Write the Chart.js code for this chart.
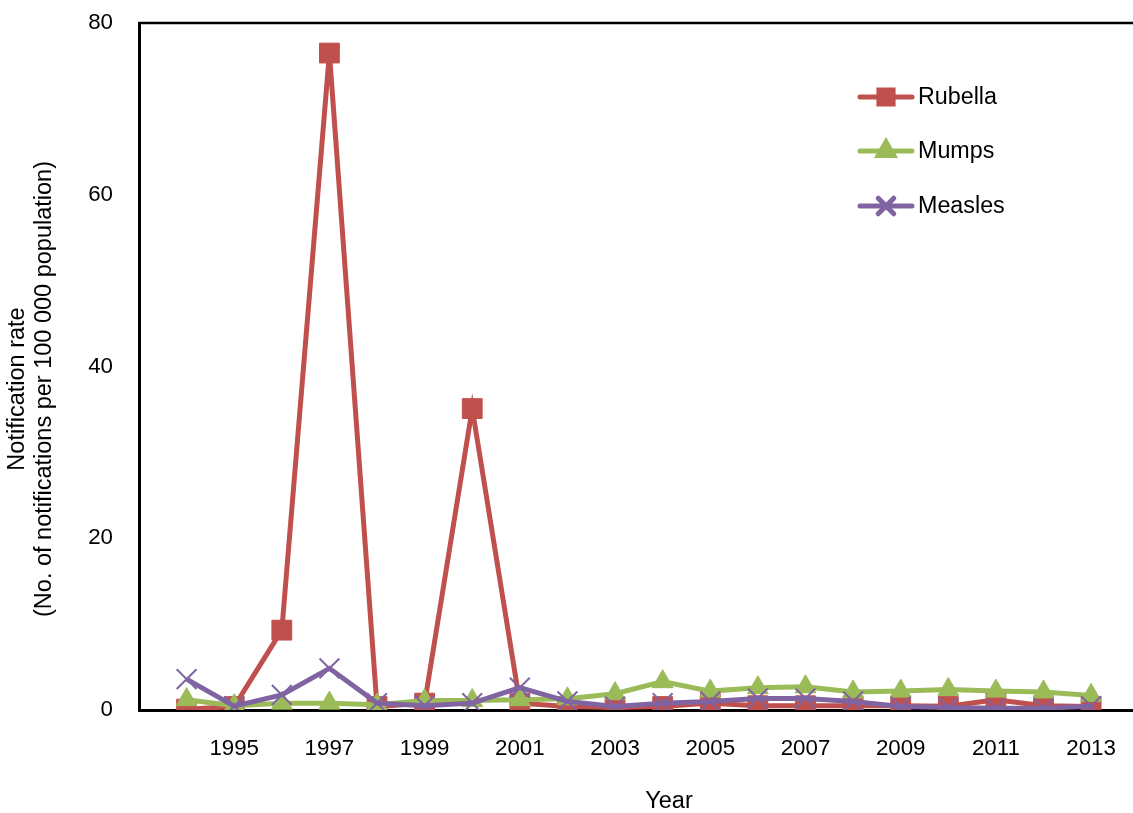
<!DOCTYPE html>
<html>
<head>
<meta charset="utf-8">
<script src="https://cdn.jsdelivr.net/npm/chart.js@4.4.0/dist/chart.umd.min.js"></script>
<style>
	html, body { margin: 0; padding: 0; background: #fff; }
	#wrap { width: 1133px; height: 813px; }
</style>
</head>
<body>
<div id="wrap"><canvas id="myChart" width="1133" height="813"></canvas></div>
<script>
const years = [1994, 1995, 1996, 1997, 1998, 1999, 2000, 2001, 2002, 2003, 2004, 2005, 2006, 2007, 2008, 2009, 2010, 2011, 2012, 2013]
const rubella = [0.1, 0.4, 9.3, 76.5, 0.4, 0.8, 35.1, 0.8, 0.4, 0.3, 0.4, 0.8, 0.5, 0.5, 0.5, 0.5, 0.45, 1.2, 0.5, 0.4]
const mumps = [1.2, 0.5, 0.8, 0.8, 0.6, 1.1, 1.1, 1.2, 1.3, 1.9, 3.3, 2.2, 2.6, 2.7, 2.1, 2.2, 2.4, 2.2, 2.1, 1.7]
const measles = [3.6, 0.45, 1.75, 4.85, 0.8, 0.5, 0.8, 2.6, 1.0, 0.4, 0.8, 1.0, 1.35, 1.35, 1.0, 0.4, 0.3, 0.2, 0.2, 0.45]
const tickYears = [1995, 1997, 1999, 2001, 2003, 2005, 2007, 2009, 2011, 2013]
const yTicks = [0, 20, 40, 60, 80]
const xTitle = 'Year'
const yTitle = ['Notification rate', '(No. of notifications per 100 000 population)']

const FONT = "'Liberation Sans', Arial, sans-serif"
Chart.defaults.font.family = FONT
Chart.defaults.font.size = 22
Chart.defaults.color = '#000'

function toPoints(values) {
	return values.map((v, i) => ({ x: years[i], y: v }))
}

// frame line, axis titles and legend drawn inside the plot (top right)
const innerLegend = {
	id: 'innerLegend',
	afterDraw(chart) {
		const ctx = chart.ctx
		const area = chart.chartArea
		ctx.save()
		ctx.strokeStyle = '#000'
		ctx.lineWidth = 2.5
		ctx.beginPath()
		ctx.moveTo(area.left - 1, area.top)
		ctx.lineTo(chart.width, area.top)
		ctx.stroke()

		// axis titles
		ctx.fillStyle = '#000'
		ctx.font = '23.5px ' + FONT
		ctx.textAlign = 'center'
		ctx.textBaseline = 'middle'
		ctx.fillText(xTitle, 669, 802)
		ctx.save()
		ctx.translate(18, 389)
		ctx.rotate(-Math.PI / 2)
		ctx.fillText(yTitle[0], 0, 0)
		ctx.fillText(yTitle[1], 0, 26.5)
		ctx.restore()

		const rows = [
			{ ds: 0, y: 97 },
			{ ds: 1, y: 151 },
			{ ds: 2, y: 206 },
		]
		rows.forEach((row) => {
			const ds = chart.data.datasets[row.ds]
			ctx.strokeStyle = ds.borderColor
			ctx.lineWidth = 5
			ctx.lineCap = 'round'
			ctx.beginPath()
			ctx.moveTo(860, row.y)
			ctx.lineTo(912, row.y)
			ctx.stroke()
			Chart.helpers.drawPoint(ctx, {
				pointStyle: ds.pointStyle,
				radius: ds.legendRadius,
				borderWidth: ds.pointBorderWidth,
				rotation: 0,
			}, 886, row.y)
			ctx.fillStyle = ds.pointBackgroundColor
			ctx.strokeStyle = ds.pointBorderColor
			ctx.fill()
			ctx.fillStyle = '#000'
			ctx.font = '23.3px ' + FONT
			ctx.textBaseline = 'middle'
			ctx.textAlign = 'left'
			ctx.fillText(ds.label, 918, row.y + 1)
		})
		ctx.restore()
	},
}

var ctx = document.getElementById('myChart').getContext('2d')
var myChart = new Chart(ctx, {
	type: 'line',
	data: {
		datasets: [
			{
				label: 'Rubella',
				data: toPoints(rubella),
				borderColor: '#C0504D',
				backgroundColor: '#C0504D',
				pointBackgroundColor: '#C0504D',
				pointBorderColor: '#C0504D',
				borderWidth: 5,
				pointStyle: 'rect',
				pointRadius: 14,
				pointBorderWidth: 1,
				legendRadius: 10,
				order: 3,
			},
			{
				label: 'Mumps',
				data: toPoints(mumps),
				borderColor: '#9BBB59',
				backgroundColor: '#9BBB59',
				pointBackgroundColor: '#9BBB59',
				pointBorderColor: '#9BBB59',
				borderWidth: 5,
				pointStyle: 'triangle',
				pointRadius: 12,
				pointBorderWidth: 1,
				legendRadius: 9,
				order: 2,
			},
			{
				label: 'Measles',
				data: toPoints(measles),
				borderColor: '#8064A2',
				backgroundColor: '#8064A2',
				pointBackgroundColor: '#8064A2',
				pointBorderColor: '#8064A2',
				borderWidth: 5,
				pointStyle: 'crossRot',
				pointRadius: 14,
				pointBorderWidth: 2,
				legendRadius: 11,
				order: 1,
			},
		],
	},
	options: {
		responsive: false,
		animation: false,
		layout: { autoPadding: false, padding: { top: 23, right: 0, left: 0, bottom: 0 } },
		elements: { line: { tension: 0 } },
		plugins: {
			legend: { display: false },
			tooltip: { enabled: false },
		},
		scales: {
			x: {
				type: 'linear',
				min: 1993,
				max: 2013.88,
				afterBuildTicks: (scale) => {
					scale.ticks = tickYears.map((v) => ({ value: v }))
				},
				afterFit: (scale) => {
					scale.height = 103
					scale.paddingTop = 0
					scale.paddingBottom = 0
					scale.paddingRight = 0
				},
				grid: { display: false, drawTicks: false },
				border: { display: true, color: '#000', width: 3 },
				ticks: {
					padding: 25,
					maxRotation: 0,
					autoSkip: false,
					font: { size: 22.3 },
					callback: (v) => String(v),
				},
				title: { display: false },
			},
			y: {
				min: 0,
				max: 80,
				afterBuildTicks: (scale) => {
					scale.ticks = yTicks.map((v) => ({ value: v }))
				},
				afterFit: (scale) => {
					scale.width = 139
					scale.paddingTop = 0
					scale.paddingBottom = 0
				},
				grid: { display: false, drawTicks: false },
				border: { display: true, color: '#000', width: 3 },
				ticks: { padding: 26, font: { size: 22.3 } },
				title: { display: false },
			},
		},
	},
	plugins: [innerLegend],
})
</script>
</body>
</html>
